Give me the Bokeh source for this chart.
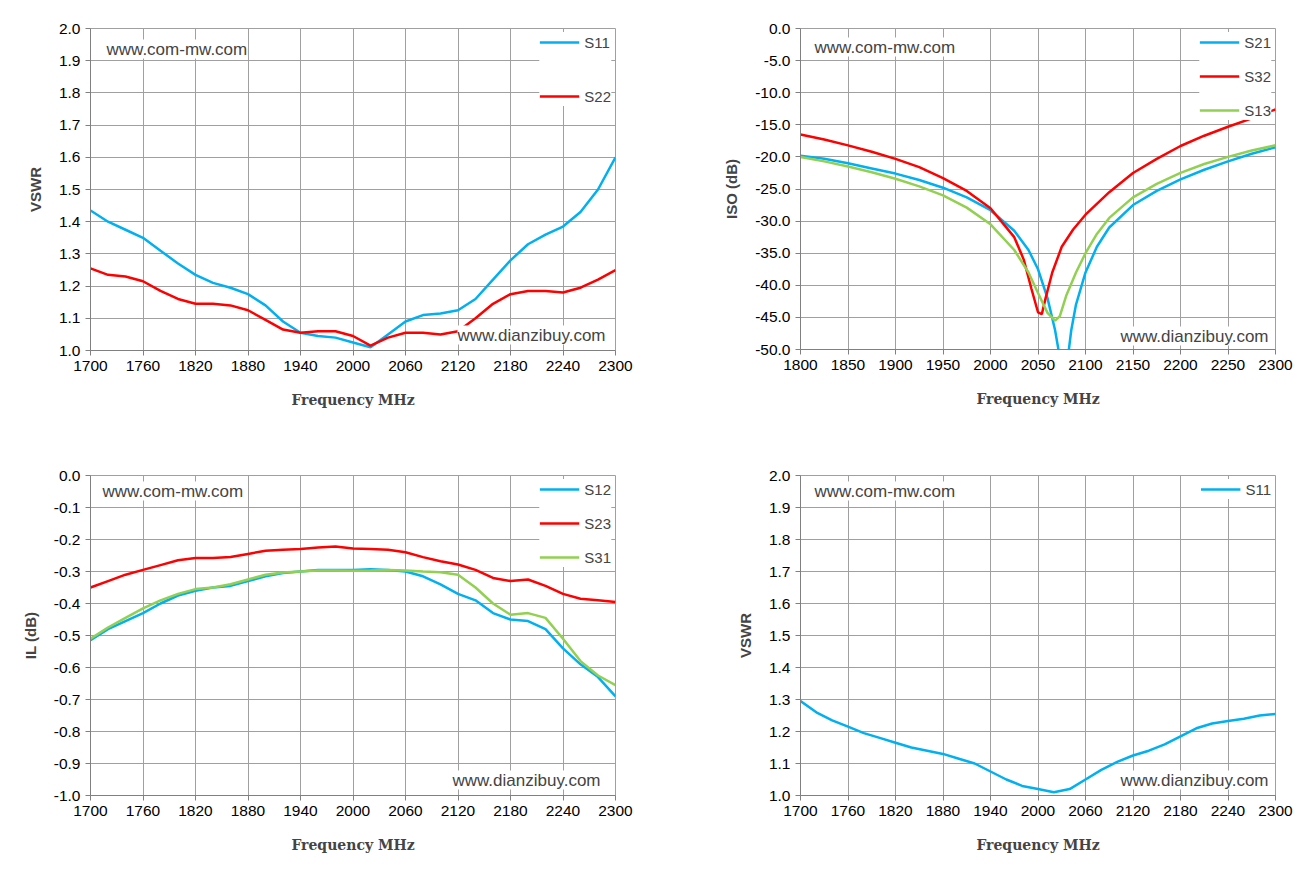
from bokeh.plotting import figure
from bokeh.layouts import column, row
from bokeh.models import Legend, LegendItem, Label, NumeralTickFormatter, FixedTicker, Range1d
from bokeh.embed import file_html
from bokeh.resources import INLINE

BLUE, RED, GREEN = "#00B0F0", "#FF0000", "#92D050"

# Panel 1: VSWR
f1 = list(range(1700, 2301, 20))
vswr_s11 = [1.435,1.40,1.375,1.35,1.31,1.27,1.235,1.21,1.195,1.175,1.14,1.09,1.055,1.045,1.04,1.025,1.01,1.05,1.09,1.11,1.115,1.125,1.16,1.22,1.28,1.33,1.36,1.385,1.43,1.50,1.60]
vswr_s22 = [1.255,1.235,1.23,1.215,1.185,1.16,1.145,1.145,1.14,1.125,1.095,1.065,1.055,1.06,1.06,1.045,1.015,1.04,1.055,1.055,1.05,1.06,1.10,1.145,1.175,1.185,1.185,1.18,1.195,1.22,1.25]

# Panel 2: Isolation
f_s21 = [1800,1825,1850,1875,1900,1925,1950,1975,2000,2025,2040,2050,2060,2068,2075,2080,2085,2090,2100,2112,2125,2150,2175,2200,2225,2250,2275,2300]
iso_s21 = [-19.8,-20.3,-21.0,-21.8,-22.6,-23.6,-24.8,-26.3,-28.3,-31.5,-34.5,-37.5,-42,-47,-53,-53,-47,-43,-38,-34,-31,-27.5,-25.3,-23.5,-22,-20.7,-19.5,-18.5]
f_s32 = [1800,1825,1850,1875,1900,1925,1950,1975,2000,2025,2035,2043,2050,2054,2058,2065,2075,2087,2100,2125,2150,2175,2200,2225,2250,2275,2300]
iso_s32 = [-16.5,-17.3,-18.2,-19.2,-20.3,-21.6,-23.3,-25.3,-28,-32.5,-36,-40.5,-44.2,-44.5,-42,-38,-34,-31.3,-29,-25.5,-22.5,-20.3,-18.3,-16.7,-15.3,-14,-12.6]
f_s13 = [1800,1825,1850,1875,1900,1925,1950,1975,2000,2025,2040,2050,2060,2068,2073,2080,2090,2100,2112,2125,2150,2175,2200,2225,2250,2275,2300]
iso_s13 = [-20,-20.7,-21.5,-22.4,-23.4,-24.6,-26,-27.9,-30.5,-34.5,-38,-41.2,-44.3,-45.5,-44.8,-41.5,-38,-35,-32,-29.5,-26.3,-24.2,-22.5,-21.1,-20,-19,-18.2]

# Panel 3: Insertion loss
il_s12 = [-0.515,-0.48,-0.455,-0.43,-0.40,-0.375,-0.36,-0.35,-0.345,-0.33,-0.315,-0.305,-0.30,-0.295,-0.295,-0.295,-0.293,-0.295,-0.30,-0.315,-0.34,-0.37,-0.39,-0.43,-0.45,-0.455,-0.48,-0.54,-0.59,-0.63,-0.69]
il_s23 = [-0.35,-0.33,-0.31,-0.295,-0.28,-0.265,-0.258,-0.258,-0.255,-0.245,-0.235,-0.232,-0.23,-0.225,-0.222,-0.228,-0.23,-0.232,-0.24,-0.255,-0.268,-0.278,-0.295,-0.32,-0.33,-0.325,-0.345,-0.37,-0.385,-0.39,-0.395]
il_s31 = [-0.51,-0.475,-0.445,-0.415,-0.39,-0.37,-0.355,-0.35,-0.34,-0.325,-0.31,-0.303,-0.30,-0.297,-0.297,-0.298,-0.297,-0.295,-0.297,-0.30,-0.302,-0.31,-0.35,-0.40,-0.435,-0.43,-0.445,-0.51,-0.58,-0.625,-0.655]

# Panel 4: VSWR S11
vswr2_s11 = [1.295,1.26,1.235,1.215,1.195,1.18,1.165,1.15,1.14,1.13,1.115,1.10,1.075,1.05,1.03,1.02,1.01,1.02,1.05,1.08,1.105,1.125,1.14,1.16,1.185,1.21,1.225,1.233,1.24,1.25,1.255]

TICK_FONT = "Liberation Sans"

def make_fig(xr, yr, xticks, yticks, ylabel, fmt, bl, br, bt, bb, fw, fh):
    p = figure(output_backend="svg", toolbar_location=None, frame_width=fw, frame_height=fh,
               x_range=Range1d(*xr), y_range=Range1d(*yr),
               min_border_left=bl, min_border_right=br, min_border_top=bt, min_border_bottom=bb)
    p.xaxis.ticker = FixedTicker(ticks=xticks)
    p.yaxis.ticker = FixedTicker(ticks=yticks)
    p.yaxis.formatter = NumeralTickFormatter(format=fmt)
    for ax in (p.xaxis[0], p.yaxis[0]):
        ax.major_label_text_font = TICK_FONT
        ax.major_label_text_font_size = "15.5px"
        ax.major_label_text_color = "#000000"
        ax.axis_line_color = "#808080"
        ax.major_tick_line_color = "#808080"
        ax.minor_tick_line_color = None
        ax.major_tick_out = 5
        ax.major_tick_in = 0
    p.xaxis.axis_label = "Frequency MHz"
    p.xaxis.axis_label_text_font = "DejaVu Serif"
    p.xaxis.axis_label_text_font_style = "bold"
    p.xaxis.axis_label_text_font_size = "14px"
    p.xaxis.axis_label_standoff = 18
    p.yaxis.axis_label = ylabel
    p.yaxis.axis_label_text_font = TICK_FONT
    p.yaxis.axis_label_text_font_style = "bold"
    p.yaxis.axis_label_text_font_size = "15px"
    p.yaxis.axis_label_standoff = 12
    p.grid.grid_line_color = "#A0A0A0"
    p.grid.grid_line_width = 1
    p.outline_line_color = "#A0A0A0"
    p.background_fill_color = "white"
    return p

def add_texts(p, tx, ty, bx, by):
    p.add_layout(Label(x=tx, y=ty, x_units="screen", y_units="screen", text="www.com-mw.com",
                       text_font=TICK_FONT, text_font_size="17px", background_fill_color="white"))
    p.add_layout(Label(x=bx, y=by, x_units="screen", y_units="screen", text="www.dianzibuy.com",
                       text_font=TICK_FONT, text_font_size="17px", text_align="right",
                       background_fill_color="white"))

def add_legend(p, items, spacing):
    lg = Legend(items=items, location="top_right", border_line_color=None,
                background_fill_color="white", background_fill_alpha=1,
                label_text_font=TICK_FONT, label_text_font_size="15px",
                spacing=spacing, glyph_width=40, margin=4, padding=10)
    p.add_layout(lg)

LW = 2.5
# TL
p1 = make_fig((1700, 2300), (1.0, 2.0), list(range(1700, 2301, 60)), [1.0+0.1*i for i in range(11)],
              "VSWR", "0.0", 90, 20, 24, 100, 525, 322)
r1 = p1.line(f1, vswr_s11, color=BLUE, line_width=LW)
r2 = p1.line(f1, vswr_s22, color=RED, line_width=LW)
add_texts(p1, 16, 292, 515, 6)
add_legend(p1, [LegendItem(label="S11", renderers=[r1]), LegendItem(label="S22", renderers=[r2])], 34)

# TR
p2 = make_fig((1800, 2300), (-50, 0), list(range(1800, 2301, 50)), list(range(-50, 1, 5)),
              "ISO (dB)", "0.0", 165, 25, 28, 97, 475, 321)
a = p2.line(f_s21, iso_s21, color=BLUE, line_width=LW)
b = p2.line(f_s32, iso_s32, color=RED, line_width=LW)
c = p2.line(f_s13, iso_s13, color=GREEN, line_width=LW)
add_texts(p2, 14, 293, 468, 4)
add_legend(p2, [LegendItem(label="S21", renderers=[a]), LegendItem(label="S32", renderers=[b]),
                LegendItem(label="S13", renderers=[c])], 14)

# BL
p3 = make_fig((1700, 2300), (-1.0, 0.0), list(range(1700, 2301, 60)), [-1.0+0.1*i for i in range(11)],
              "IL (dB)", "0.0", 90, 20, 29, 70, 525, 320)
d = p3.line(f1, il_s12, color=BLUE, line_width=LW)
e = p3.line(f1, il_s23, color=RED, line_width=LW)
g = p3.line(f1, il_s31, color=GREEN, line_width=LW)
add_texts(p3, 12, 295, 510, 6)
add_legend(p3, [LegendItem(label="S12", renderers=[d]), LegendItem(label="S23", renderers=[e]),
                LegendItem(label="S31", renderers=[g])], 14)

# BR
p4 = make_fig((1700, 2300), (1.0, 2.0), list(range(1700, 2301, 60)), [1.0+0.1*i for i in range(11)],
              "VSWR", "0.0", 165, 25, 29, 70, 475, 320)
h = p4.line(f1, vswr2_s11, color=BLUE, line_width=LW)
add_texts(p4, 14, 295, 468, 6)
add_legend(p4, [LegendItem(label="S11", renderers=[h])], 10)

layout = column(row(p1, p2), row(p3, p4))
open("out.html", "w").write(file_html(layout, INLINE))
